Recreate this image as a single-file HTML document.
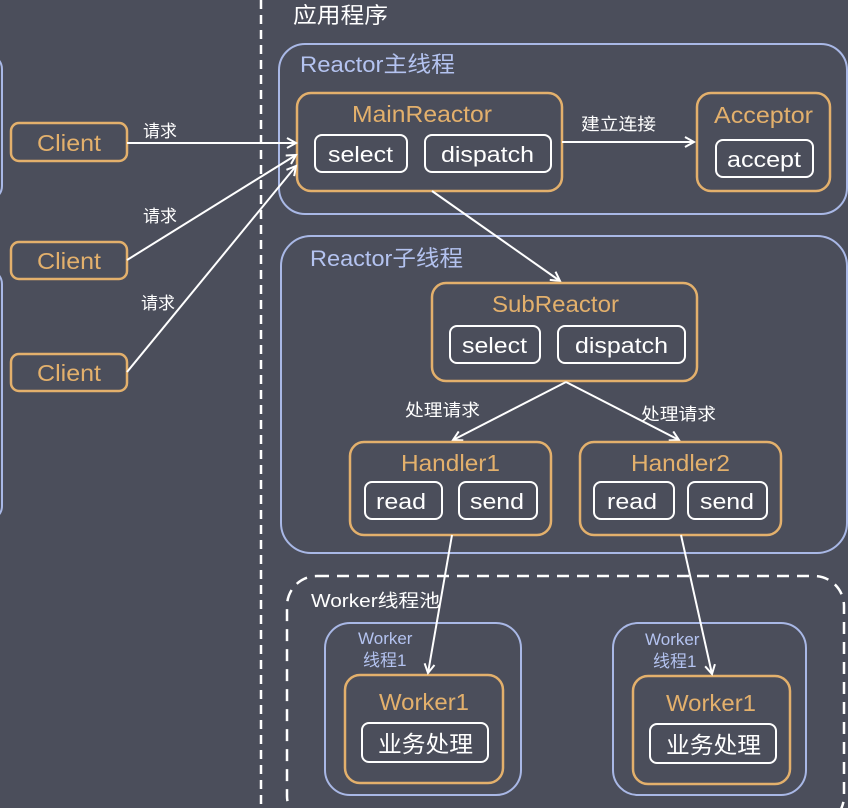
<!DOCTYPE html>
<html><head><meta charset="utf-8"><style>
html,body{margin:0;padding:0;background:#4b4e5b;}
svg{display:block;}
text{font-family:"Liberation Sans","Noto Sans CJK SC",sans-serif;}
</style></head><body>
<svg width="848" height="808" viewBox="0 0 848 808" xmlns="http://www.w3.org/2000/svg">
<defs>
<marker id="a" markerWidth="12" markerHeight="12" refX="10" refY="6" orient="auto" markerUnits="userSpaceOnUse">
<path d="M1,1 L10,6 L1,11" fill="none" stroke="#fff" stroke-width="2"/>
</marker>
</defs>
<rect width="848" height="808" fill="#4b4e5b"/>
<rect x="-40" y="55" width="42" height="145" rx="14" fill="none" stroke="#a9b8e6" stroke-width="2"/>
<rect x="-40" y="270" width="42" height="250" rx="14" fill="none" stroke="#a9b8e6" stroke-width="2"/>
<line x1="261" y1="0" x2="261" y2="808" stroke="#fff" stroke-width="2.5" stroke-dasharray="9,6"/>
<text x="293" y="23" font-size="22" fill="#fff" textLength="95" lengthAdjust="spacingAndGlyphs">应用程序</text>

<rect x="279" y="44" width="568" height="170" rx="26" fill="none" stroke="#a9b8e6" stroke-width="2"/>
<text x="300" y="72" font-size="22" fill="#b4c3f0" textLength="155" lengthAdjust="spacingAndGlyphs">Reactor主线程</text>
<rect x="297" y="93" width="265" height="98" rx="14" fill="none" stroke="#e3b06c" stroke-width="2.5"/>
<text x="352" y="122" font-size="23" fill="#e3b06c" textLength="140" lengthAdjust="spacingAndGlyphs">MainReactor</text>
<rect x="315" y="135" width="92" height="37" rx="7" fill="none" stroke="#fff" stroke-width="2"/>
<text x="328" y="162" font-size="22" fill="#fff" textLength="65" lengthAdjust="spacingAndGlyphs">select</text>
<rect x="425" y="135" width="126" height="37" rx="7" fill="none" stroke="#fff" stroke-width="2"/>
<text x="441" y="162" font-size="22" fill="#fff" textLength="93" lengthAdjust="spacingAndGlyphs">dispatch</text>
<rect x="697" y="93" width="133" height="98" rx="14" fill="none" stroke="#e3b06c" stroke-width="2.5"/>
<text x="714" y="123" font-size="23" fill="#e3b06c" textLength="99" lengthAdjust="spacingAndGlyphs">Acceptor</text>
<rect x="716" y="140" width="97" height="37" rx="7" fill="none" stroke="#fff" stroke-width="2"/>
<text x="727" y="167" font-size="22" fill="#fff" textLength="74" lengthAdjust="spacingAndGlyphs">accept</text>
<line x1="562" y1="142" x2="694" y2="142" stroke="#fff" stroke-width="2" marker-end="url(#a)"/>
<text x="581" y="130" font-size="17" fill="#fff" textLength="75" lengthAdjust="spacingAndGlyphs">建立连接</text>

<g fill="none" stroke="#e3b06c" stroke-width="2.5">
<rect x="11" y="123" width="116" height="38" rx="8"/>
<rect x="11" y="242" width="116" height="37" rx="8"/>
<rect x="11" y="354" width="116" height="37" rx="8"/>
</g>
<g font-size="23" fill="#e3b06c">
<text x="37" y="151" textLength="64" lengthAdjust="spacingAndGlyphs">Client</text>
<text x="37" y="269" textLength="64" lengthAdjust="spacingAndGlyphs">Client</text>
<text x="37" y="381" textLength="64" lengthAdjust="spacingAndGlyphs">Client</text>
</g>
<g stroke="#fff" stroke-width="2" fill="none">
<line x1="127" y1="143" x2="296" y2="143" marker-end="url(#a)"/>
<line x1="127" y1="260" x2="296" y2="155" marker-end="url(#a)"/>
<line x1="127" y1="372" x2="296" y2="166" marker-end="url(#a)"/>
</g>
<g font-size="17" fill="#fff">
<text x="143" y="137">请求</text><text x="143" y="222">请求</text><text x="141" y="309">请求</text>
</g>

<rect x="281" y="236" width="566" height="317" rx="30" fill="none" stroke="#a9b8e6" stroke-width="2"/>
<text x="310" y="266" font-size="22" fill="#b4c3f0" textLength="153" lengthAdjust="spacingAndGlyphs">Reactor子线程</text>
<line x1="432" y1="191" x2="560" y2="281" stroke="#fff" stroke-width="2" marker-end="url(#a)"/>
<rect x="432" y="283" width="265" height="98" rx="14" fill="none" stroke="#e3b06c" stroke-width="2.5"/>
<text x="492" y="312" font-size="23" fill="#e3b06c" textLength="127" lengthAdjust="spacingAndGlyphs">SubReactor</text>
<rect x="450" y="326" width="90" height="37" rx="7" fill="none" stroke="#fff" stroke-width="2"/>
<text x="462" y="353" font-size="22" fill="#fff" textLength="65" lengthAdjust="spacingAndGlyphs">select</text>
<rect x="558" y="326" width="127" height="37" rx="7" fill="none" stroke="#fff" stroke-width="2"/>
<text x="575" y="353" font-size="22" fill="#fff" textLength="93" lengthAdjust="spacingAndGlyphs">dispatch</text>
<line x1="566" y1="382" x2="453" y2="440" stroke="#fff" stroke-width="2" marker-end="url(#a)"/>
<line x1="566" y1="382" x2="679" y2="440" stroke="#fff" stroke-width="2" marker-end="url(#a)"/>
<text x="405" y="416" font-size="17" fill="#fff" textLength="75" lengthAdjust="spacingAndGlyphs">处理请求</text>
<text x="641" y="420" font-size="17" fill="#fff" textLength="75" lengthAdjust="spacingAndGlyphs">处理请求</text>

<g fill="none" stroke="#e3b06c" stroke-width="2.5">
<rect x="350" y="442" width="201" height="93" rx="14"/>
<rect x="580" y="442" width="201" height="93" rx="14"/>
</g>
<text x="401" y="471" font-size="23" fill="#e3b06c" textLength="99" lengthAdjust="spacingAndGlyphs">Handler1</text>
<text x="631" y="471" font-size="23" fill="#e3b06c" textLength="99" lengthAdjust="spacingAndGlyphs">Handler2</text>
<g fill="none" stroke="#fff" stroke-width="2">
<rect x="365" y="482" width="77" height="37" rx="7"/>
<rect x="459" y="482" width="78" height="37" rx="7"/>
<rect x="594" y="482" width="80" height="37" rx="7"/>
<rect x="688" y="482" width="79" height="37" rx="7"/>
</g>
<g font-size="22" fill="#fff">
<text x="376" y="509" textLength="50" lengthAdjust="spacingAndGlyphs">read</text>
<text x="470" y="509" textLength="54" lengthAdjust="spacingAndGlyphs">send</text>
<text x="607" y="509" textLength="50" lengthAdjust="spacingAndGlyphs">read</text>
<text x="700" y="509" textLength="54" lengthAdjust="spacingAndGlyphs">send</text>
</g>

<rect x="287" y="576" width="557" height="250" rx="30" fill="none" stroke="#fff" stroke-width="2.5" stroke-dasharray="12,8"/>
<text x="311" y="607" font-size="18" fill="#fff" textLength="129" lengthAdjust="spacingAndGlyphs">Worker线程池</text>
<g fill="none" stroke="#a9b8e6" stroke-width="2">
<rect x="325" y="623" width="196" height="172" rx="25"/>
<rect x="613" y="623" width="193" height="172" rx="25"/>
</g>
<g font-size="17" fill="#b4c3f0">
<text x="358" y="644">Worker</text><text x="363" y="666">线程1</text>
<text x="645" y="645">Worker</text><text x="653" y="667">线程1</text>
</g>
<g fill="none" stroke="#e3b06c" stroke-width="2.5">
<rect x="345" y="675" width="158" height="108" rx="15"/>
<rect x="633" y="676" width="157" height="108" rx="15"/>
</g>
<text x="379" y="710" font-size="23" fill="#e3b06c" textLength="90" lengthAdjust="spacingAndGlyphs">Worker1</text>
<text x="666" y="711" font-size="23" fill="#e3b06c" textLength="90" lengthAdjust="spacingAndGlyphs">Worker1</text>
<g fill="none" stroke="#fff" stroke-width="2">
<rect x="362" y="723" width="126" height="39" rx="7"/>
<rect x="650" y="724" width="126" height="39" rx="7"/>
</g>
<text x="378" y="752" font-size="23" fill="#fff" textLength="95" lengthAdjust="spacingAndGlyphs">业务处理</text>
<text x="666" y="753" font-size="23" fill="#fff" textLength="95" lengthAdjust="spacingAndGlyphs">业务处理</text>
<line x1="452" y1="535" x2="428" y2="673" stroke="#fff" stroke-width="2" marker-end="url(#a)"/>
<line x1="681" y1="535" x2="712" y2="674" stroke="#fff" stroke-width="2" marker-end="url(#a)"/>
</svg>
</body></html>
